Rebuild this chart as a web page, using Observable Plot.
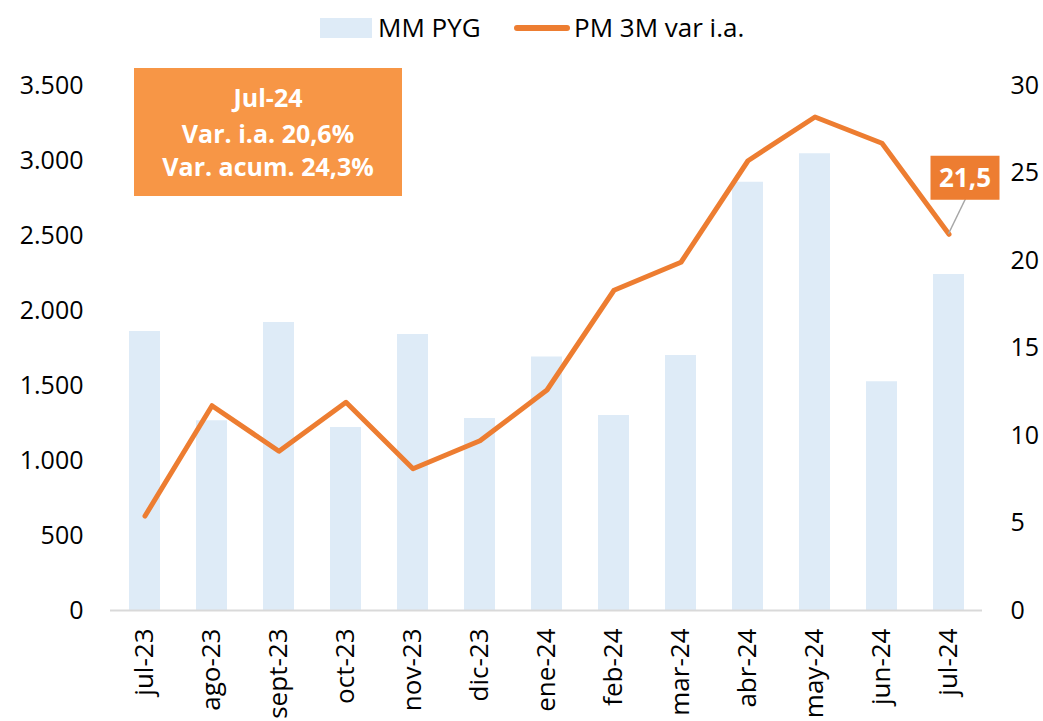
<!DOCTYPE html>
<html><head><meta charset="utf-8">
<script src="https://cdn.jsdelivr.net/npm/d3@7"></script>
<script src="https://cdn.jsdelivr.net/npm/@observablehq/plot@0.6"></script>
<style>
body{margin:0;background:#fff;font-family:"Open Sans",sans-serif;color:#000;}
#legend{position:relative;height:50px;width:1043px;font-size:26px;}
#legend .sw{position:absolute;}
#legend .lb{position:absolute;top:9px;line-height:36px;white-space:nowrap;}
</style></head><body>
<div id="legend"></div>
<div id="chart"></div>
<script>
const months = ["jul-23","ago-23","sept-23","oct-23","nov-23","dic-23","ene-24","feb-24","mar-24","abr-24","may-24","jun-24","jul-24"];
const mmPyg = [1860,1265,1920,1220,1840,1280,1690,1300,1700,2855,3045,1525,2240];
const pm3m = [5.4,11.7,9.1,11.9,8.1,9.7,12.6,18.3,19.9,25.7,28.2,26.7,21.5];
const leftTicks = [0,500,1000,1500,2000,2500,3000,3500];
const rightTicks = [0,5,10,15,20,25,30];
const seriesNames = ["MM PYG","PM 3M var i.a."];
const annotationLines = ["Jul-24","Var. i.a. 20,6%","Var. acum. 24,3%"];
const lastLabel = "21,5";

const barColor = "#DEEBF7", lineColor = "#ED7D31", boxColor = "#F79646";
const k = 3500 / 30;
const data = months.map((m, i) => ({month: m, mm: mmPyg[i], pm: pm3m[i]}));
const fmt = d3.formatLocale({thousands: ".", decimal: ",", grouping: [3], currency: ["", ""]}).format(",");

// legend
const lg = document.getElementById("legend");
lg.innerHTML = `
<div class="sw" style="left:320px;top:18px;width:52px;height:20px;background:${barColor}"></div>
<div class="lb" style="left:378px">${seriesNames[0]}</div>
<div class="sw" style="left:514px;top:25px;width:56px;height:6px;border-radius:3px;background:${lineColor}"></div>
<div class="lb" style="left:574px">${seriesNames[1]}</div>`;

function annotations(...args) {
  let sc, dim;
  for (const a of args) {
    if (a && typeof a === "object") {
      if (!sc && typeof a.x === "function" && typeof a.y === "function") sc = a;
      if (!dim && typeof a.width === "number" && typeof a.marginLeft === "number") dim = a;
    }
  }
  const g = d3.create("svg:g");
  if (!sc || !dim) return g.node();
  // big box
  const bx = dim.marginLeft + 24, by = dim.marginTop - 17;
  g.append("rect").attr("x", bx).attr("y", by).attr("width", 268).attr("height", 128).attr("fill", boxColor);
  [30, 66, 99].forEach((off, i) => {
    g.append("text").attr("x", bx + 134).attr("y", by + off).attr("dy", "0.35em")
      .attr("text-anchor", "middle").attr("fill", "#fff").attr("font-weight", "bold")
      .attr("font-size", 25).text(annotationLines[i]);
  });
  // last point label
  const last = data[data.length - 1];
  const bw = sc.x.bandwidth ? sc.x.bandwidth() / 2 : 0;
  const px = sc.x(last.month) + bw, py = sc.y(last.pm * k);
  g.append("line").attr("x1", px).attr("y1", py).attr("x2", px + 17).attr("y2", py - 35)
    .attr("stroke", "#A6A6A6").attr("stroke-width", 1.5);
  g.append("rect").attr("x", px - 18).attr("y", py - 78).attr("width", 69).attr("height", 44).attr("fill", lineColor);
  g.append("text").attr("x", px + 16.5).attr("y", py - 56).attr("dy", "0.35em")
    .attr("text-anchor", "middle").attr("fill", "#fff").attr("font-weight", "bold")
    .attr("font-size", 26).text(lastLabel);
  return g.node();
}

const chart = Plot.plot({
  width: 1043,
  height: 671,
  marginTop: 35,
  marginBottom: 111,
  marginLeft: 110,
  marginRight: 61,
  style: {fontFamily: "'Open Sans', sans-serif", fontSize: "25px", color: "#000", background: "#fff"},
  x: {domain: months, paddingInner: 0.54, paddingOuter: 0.27, label: null},
  y: {domain: [0, 3500], label: null},
  marks: [
    Plot.barY(data, {x: "month", y: "mm", fill: barColor}),
    Plot.ruleY([0], {stroke: "#D9D9D9", strokeWidth: 2}),
    Plot.lineY(data, {x: "month", y: d => d.pm * k, stroke: lineColor, strokeWidth: 5, strokeLinecap: "round", strokeLinejoin: "round"}),
    Plot.axisY(leftTicks, {anchor: "left", tickSize: 0, tickPadding: 27, tickFormat: fmt, label: null}),
    Plot.axisY(rightTicks.map(v => v * k), {anchor: "right", tickSize: 0, tickPadding: 28, tickFormat: d => String(Math.round(d / k)), label: null}),
    Plot.axisX({tickSize: 0, tickRotate: -90, tickPadding: 18, fontSize: 26, label: null}),
    annotations
  ]
});
document.getElementById("chart").appendChild(chart);
</script>
</body></html>
